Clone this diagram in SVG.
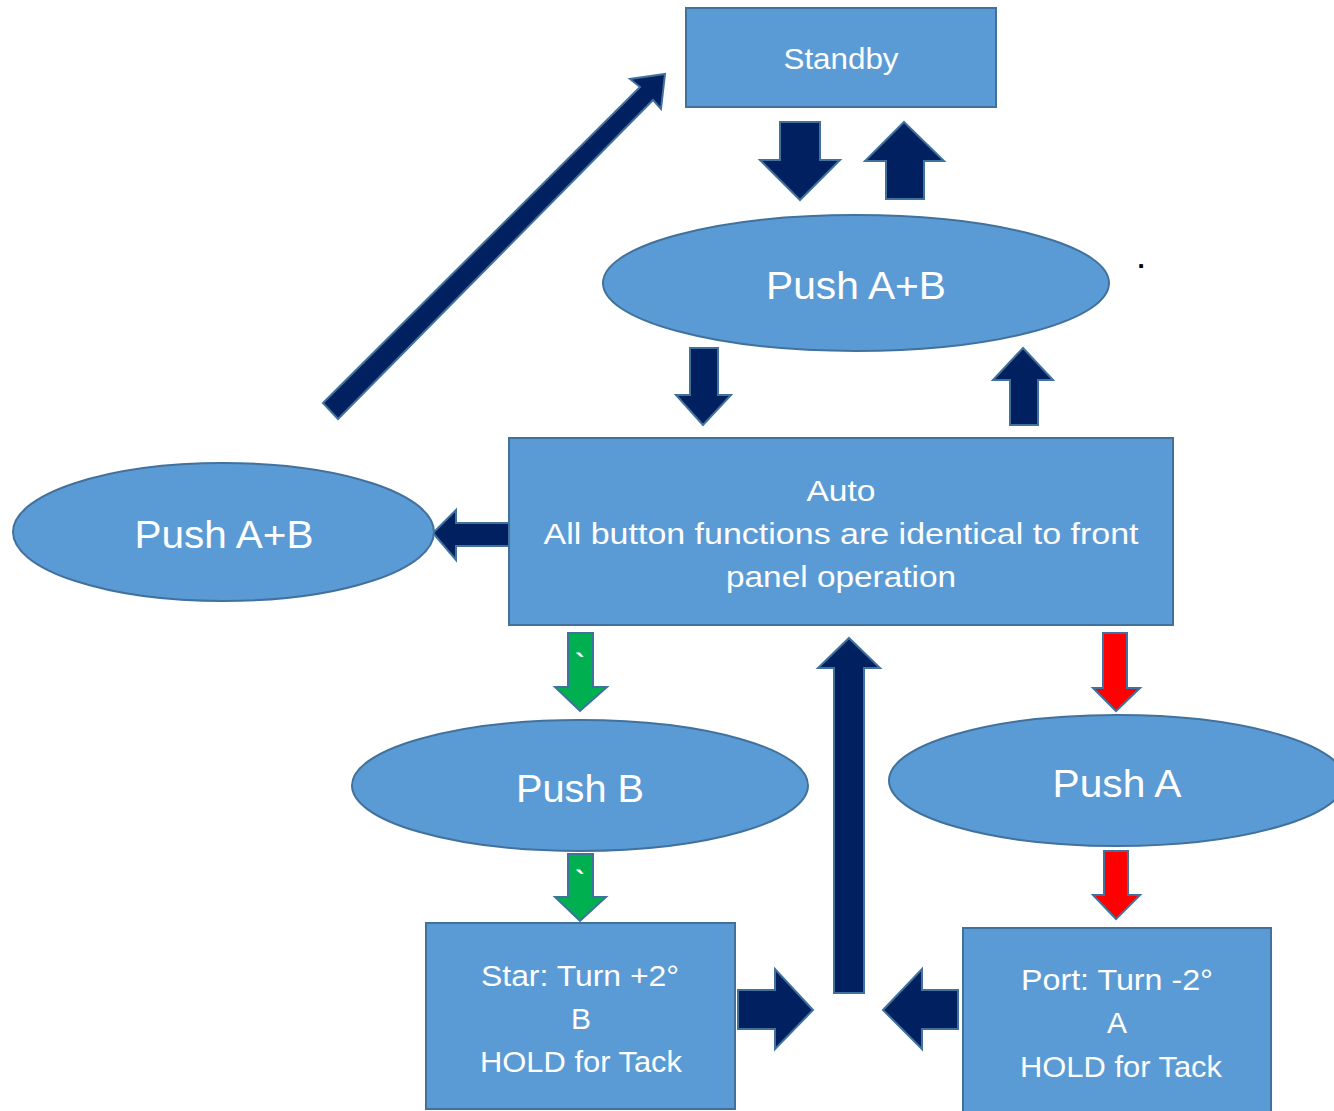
<svg xmlns="http://www.w3.org/2000/svg" width="1334" height="1111" viewBox="0 0 1334 1111">
<style>
.box{fill:#5B9BD5;stroke:#41719C;stroke-width:2}
.nav{fill:#002060;stroke:#41719C;stroke-width:2;stroke-linejoin:miter}
.grn{fill:#00B050;stroke:#41719C;stroke-width:2}
.red{fill:#FF0000;stroke:#41719C;stroke-width:2}
.t{fill:#FFFFFF;font-family:"Liberation Sans",Arial,sans-serif;font-size:30px;text-anchor:middle}
.p{fill:#FFFFFF;font-family:"Liberation Sans",Arial,sans-serif;font-size:38px;text-anchor:middle}
.tick{fill:#FFFFFF;font-family:"Liberation Sans",Arial,sans-serif;font-size:28px;font-weight:bold;text-anchor:middle}
</style>
<rect width="1334" height="1111" fill="#FFFFFF"/>
<g id="connectors">
<polygon class="nav" points="780,122 820,122 820,160 840,160 800,200 760,160 780,160"/>
<polygon class="nav" points="904,122 944,161 924,161 924,199 886,199 886,161 865,161"/>
<polygon class="nav" points="690,348 718,348 718,395 731,395 703,425 676,395 690,395"/>
<polygon class="nav" points="1023,348 1053,380 1038,380 1038,425 1010,425 1010,380 993,380"/>
<polygon class="nav" points="323,403 640,87 630,79 665,74 661,109 653,100 338,419"/>
<polygon class="nav" points="509,523 509,546 456,546 456,560 433,533 456,510 456,523"/>
<polygon class="grn" points="568,633 593,633 593,687 607,687 580,711 555,687 568,687"/>
<text class="tick" x="580" y="673">`</text>
<polygon class="grn" points="568,854 593,854 593,897 606,897 580,921 555,897 568,897"/>
<text class="tick" x="580" y="890">`</text>
<polygon class="red" points="1103,633 1127,633 1127,688 1140,688 1116,711 1093,688 1103,688"/>
<polygon class="red" points="1104,851 1128,851 1128,895 1140,895 1116,919 1093,895 1104,895"/>
<polygon class="nav" points="849,638 880,668 864,668 864,993 834,993 834,668 818,668"/>
<polygon class="nav" points="738,990 775,990 775,969 813,1010 775,1049 775,1029 738,1029"/>
<polygon class="nav" points="883,1010 922,969 922,990 958,990 958,1029 922,1029 922,1049"/>
</g>
<g id="standby">
<rect class="box" x="686" y="8" width="310" height="99"/>
<text class="t" x="841" y="69" textLength="115" lengthAdjust="spacingAndGlyphs">Standby</text>
</g>
<g id="push-ab-top">
<ellipse class="box" cx="856" cy="283" rx="253" ry="68"/>
<text class="p" x="856" y="299" textLength="180" lengthAdjust="spacingAndGlyphs">Push A+B</text>
</g>
<g id="dot">
<text x="1141" y="268" font-family="Liberation Sans, Arial, sans-serif" font-size="26" font-weight="bold" fill="#000000" text-anchor="middle">.</text>
</g>
<g id="auto">
<rect class="box" x="509" y="438" width="664" height="187"/>
<text class="t" x="841" y="501" textLength="69" lengthAdjust="spacingAndGlyphs">Auto</text>
<text class="t" x="841" y="544" textLength="595" lengthAdjust="spacingAndGlyphs">All button functions are identical to front</text>
<text class="t" x="841" y="587" textLength="230" lengthAdjust="spacingAndGlyphs">panel operation</text>
</g>
<g id="push-ab-left">
<ellipse class="box" cx="223.5" cy="532" rx="210.5" ry="69"/>
<text class="p" x="224" y="548" textLength="179" lengthAdjust="spacingAndGlyphs">Push A+B</text>
</g>
<g id="push-b">
<ellipse class="box" cx="580" cy="785.5" rx="228" ry="65.5"/>
<text class="p" x="580" y="802" textLength="128" lengthAdjust="spacingAndGlyphs">Push B</text>
</g>
<g id="push-a">
<ellipse class="box" cx="1117" cy="780.5" rx="228" ry="65.5"/>
<text class="p" x="1117" y="797" textLength="129" lengthAdjust="spacingAndGlyphs">Push A</text>
</g>
<g id="star">
<rect class="box" x="426" y="923" width="309" height="186"/>
<text class="t" x="580" y="986" textLength="198" lengthAdjust="spacingAndGlyphs">Star: Turn +2°</text>
<text class="t" x="581" y="1029">B</text>
<text class="t" x="581" y="1072" textLength="202" lengthAdjust="spacingAndGlyphs">HOLD for Tack</text>
</g>
<g id="port">
<rect class="box" x="963" y="928" width="308" height="190"/>
<text class="t" x="1117" y="990" textLength="192" lengthAdjust="spacingAndGlyphs">Port: Turn -2°</text>
<text class="t" x="1117" y="1033">A</text>
<text class="t" x="1121" y="1077" textLength="202" lengthAdjust="spacingAndGlyphs">HOLD for Tack</text>
</g>
</svg>
